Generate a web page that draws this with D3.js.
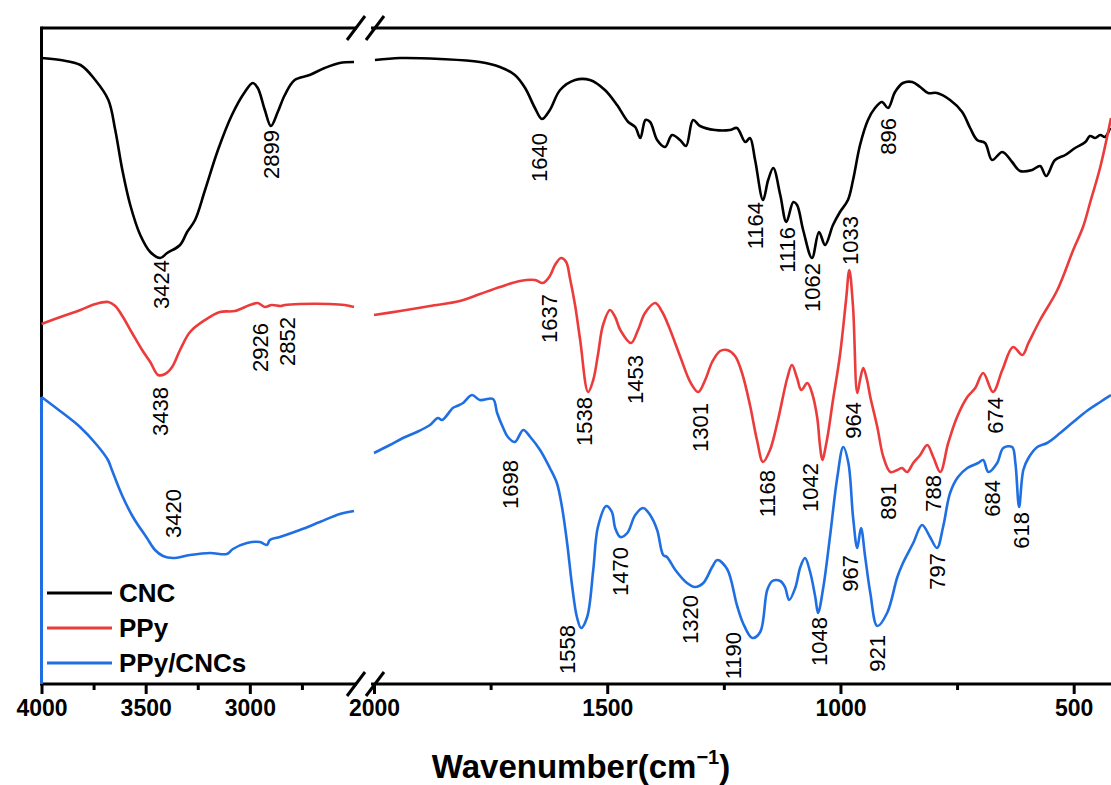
<!DOCTYPE html>
<html><head><meta charset="utf-8">
<script src="https://cdn.jsdelivr.net/npm/d3@7"></script>
<style>
html,body{margin:0;padding:0;background:#fff;}
svg{display:block;font-family:"Liberation Sans",Arial,sans-serif;}
</style></head>
<body>
<svg id="chart" width="1111" height="785"></svg>
<script>
// ---------- DATA (wavenumber cm-1, transmittance a.u.) ----------
const cncLeft = [[4000,626],[3909,624],[3813,619],[3742,604],[3679,584],[3646,554],[3612,514],[3574,479],[3526,449],[3478,432],[3430,426],[3397,431],[3335,439],[3301,452],[3263,464],[3215,494],[3153,534],[3086,569],[3024,592],[2986,601],[2962,596],[2928,574],[2899,558],[2866,572],[2832,589],[2785,604],[2713,609],[2641,616],[2569,621],[2500,622]];
const cncRight = [[1998,624],[1944,626],[1858,625],[1773,622],[1730,617],[1698,609],[1676,596],[1655,576],[1640,565],[1623,574],[1601,594],[1569,604],[1537,604],[1505,594],[1479,579],[1455,562],[1440,557],[1429,546],[1418,564],[1408,562],[1393,544],[1376,537],[1361,549],[1344,544],[1331,538],[1316,564],[1301,558],[1269,554],[1237,554],[1222,556],[1204,542],[1194,546],[1183,524],[1166,484],[1155,504],[1144,516],[1129,489],[1116,462],[1101,482],[1093,479],[1080,454],[1061,426],[1046,452],[1033,439],[1016,459],[1001,472],[984,484],[973,504],[958,539],[941,564],[926,576],[911,582],[898,576],[883,592],[866,601],[846,602],[829,597],[812,591],[793,591],[765,584],[739,572],[722,556],[707,544],[690,541],[675,524],[653,532],[632,522],[615,513],[589,514],[572,518],[559,508],[540,524],[518,529],[497,536],[475,542],[465,548],[454,546],[443,549],[433,547],[422,556]];

const ppyLeft = [[4000,360],[3909,367],[3813,374],[3742,380],[3679,382],[3646,378],[3612,368],[3565,351],[3517,334],[3478,322],[3440,309],[3407,310],[3373,317],[3335,334],[3287,352],[3215,364],[3143,372],[3072,373],[3000,379],[2962,381],[2928,377],[2895,379],[2852,378],[2832,379],[2761,380],[2617,380],[2545,379],[2500,377]];
const ppyRight = [[2000,369],[1944,373],[1880,378],[1816,383],[1773,390],[1730,397],[1687,403],[1655,404],[1638,401],[1623,408],[1612,419],[1599,426],[1588,422],[1580,406],[1569,379],[1558,344],[1541,292],[1530,304],[1520,329],[1509,359],[1494,374],[1483,367],[1472,354],[1449,341],[1434,354],[1419,371],[1397,381],[1382,372],[1365,354],[1344,328],[1322,302],[1305,292],[1290,304],[1275,322],[1258,333],[1243,334],[1226,328],[1211,311],[1194,279],[1179,244],[1166,222],[1151,234],[1134,264],[1114,306],[1104,319],[1093,306],[1084,294],[1071,301],[1061,291],[1050,267],[1044,239],[1039,224],[1029,244],[1016,284],[1001,329],[988,384],[981,414],[973,377],[964,291],[958,304],[951,316],[943,304],[936,287],[921,257],[908,227],[893,212],[878,214],[868,216],[857,212],[844,221],[829,229],[814,239],[801,227],[786,212],[769,241],[750,267],[728,287],[711,296],[694,311],[673,292],[653,314],[630,337],[610,329],[597,341],[572,364],[535,394],[501,434],[480,457],[465,481],[443,517],[420,566]];

const compEdge = [[4000,0],[4000,287]];
const compLeft = [[4000,287],[3911,273],[3815,257],[3734,239],[3681,224],[3662,214],[3614,189],[3561,167],[3494,146],[3455,134],[3417,128],[3369,126],[3287,129],[3191,131],[3110,130],[3081,135],[3014,141],[2952,142],[2918,139],[2904,144],[2856,147],[2760,154],[2664,162],[2568,170],[2500,173]];
const compRight = [[2000,231],[1966,239],[1938,246],[1908,252],[1880,259],[1863,266],[1854,264],[1831,276],[1822,278],[1809,281],[1790,289],[1773,284],[1745,285],[1736,271],[1723,256],[1713,247],[1698,242],[1680,254],[1665,247],[1644,234],[1623,216],[1608,201],[1597,177],[1586,141],[1575,97],[1565,67],[1556,56],[1543,67],[1530,114],[1520,157],[1502,178],[1490,172],[1483,156],[1472,147],[1457,151],[1440,169],[1423,176],[1408,169],[1393,154],[1380,129],[1372,127],[1354,114],[1329,101],[1312,97],[1294,101],[1275,117],[1264,124],[1243,115],[1222,79],[1209,61],[1189,46],[1172,52],[1157,94],[1146,103],[1129,103],[1119,97],[1110,84],[1097,96],[1086,117],[1076,126],[1065,112],[1054,87],[1048,71],[1037,96],[1022,149],[1007,206],[994,237],[983,221],[973,167],[964,136],[956,156],[947,127],[936,91],[921,58],[900,71],[878,107],[866,121],[844,141],[825,159],[808,147],[793,136],[780,157],[765,191],[748,207],[728,216],[705,221],[694,224],[683,212],[664,221],[651,236],[632,237],[625,221],[617,177],[608,214],[597,226],[578,237],[557,241],[529,251],[501,262],[469,274],[443,282],[420,289]];

// peak labels: [text, wavenumber position, value at label top]
const cncLabels = [["3424",3422,424],["2899",2898,554],["1640",1646,551],["1164",1183,482],["1116",1114,457],["1062",1059,421],["1033",979,468],["896",898,566]];
const ppyLabels = [["3438",3431,297],["2926",2951,361],["2852",2817,367],["1637",1623,390],["1538",1548,287],["1453",1440,329],["1301",1301,281],["1168",1157,214],["1042",1065,221],["964",973,282],["891",898,201],["788",801,209],["674",668,287]];
const compLabels = [["3420",3368,195],["1698",1708,224],["1558",1586,59],["1470",1472,137],["1320",1322,89],["1190",1230,52],["1048",1044,67],["967",979,129],["921",921,49],["797",791,131],["684",673,204],["618",611,172]];

const seriesNames = ["CNC","PPy","PPy/CNCs"];
const seriesColors = ["#000000","#ec3b3b","#1f6fe3"];

const leftMajor = [4000,3500,3000], leftMinor = [3750,3250,2750];
const rightMajor = [2000,1500,1000,500], rightMinor = [1750,1250,750];
const xTitle = "Wavenumber(cm", xTitleSup = "\u22121", xTitleEnd = ")";

// ---------- LAYOUT ----------
const svg = d3.select("#chart");
const yTop = 28, yBot = 684;
const xL = d3.scaleLinear().domain([4000,2500]).range([41.5,354]);
const xR = d3.scaleLinear().domain([2000,420]).range([374,1111]);
const y = d3.scaleLinear().domain([0,656]).range([yBot, yTop]);
const xAt = w => w >= 2250 ? xL(w) : xR(w);

const line = (sc, c) => d3.line().x(d => sc(d[0])).y(d => y(d[1])).curve(c || d3.curveCatmullRom.alpha(0.5));

const groups = [[cncLeft,cncRight],[ppyLeft,ppyRight],[compLeft,compRight]];

// axis frame
const g = svg.append("g");
const frame = g.append("g").attr("stroke","#000").attr("stroke-width",3).attr("fill","none");
frame.append("line").attr("x1",xL(4000)).attr("x2",xL(4000)).attr("y1",yTop-1.5).attr("y2",yBot+1.5);
[yTop,yBot].forEach(yy=>{
  frame.append("line").attr("x1",xL(4000)).attr("x2",357).attr("y1",yy).attr("y2",yy);
  frame.append("line").attr("x1",371).attr("x2",1111).attr("y1",yy).attr("y2",yy);
});

// ticks via d3 axes
function addAxis(scale, major, minor){
  const a = g.append("g").attr("transform",`translate(0,${yBot})`)
    .call(d3.axisBottom(scale).tickValues(major).tickSize(10).tickPadding(6).tickFormat(d3.format("d")));
  a.select(".domain").remove();
  a.selectAll(".tick line").attr("stroke","#000").attr("stroke-width",3);
  a.selectAll(".tick text").attr("fill","#000").attr("font-size",23).attr("font-weight","bold")
    .attr("font-family","'Liberation Sans',Arial,sans-serif");
  const m = g.append("g").attr("transform",`translate(0,${yBot})`)
    .call(d3.axisBottom(scale).tickValues(minor).tickSize(6).tickFormat(""));
  m.select(".domain").remove();
  m.selectAll(".tick line").attr("stroke","#000").attr("stroke-width",3);
}
addAxis(xL, leftMajor, leftMinor);
addAxis(xR, rightMajor, rightMinor);

// curves
svg.append("path").datum(compEdge).attr("d",line(xL, d3.curveLinear)).attr("fill","none")
  .attr("stroke",seriesColors[2]).attr("stroke-width",3);
groups.forEach((segs,i)=>{
  svg.append("path").datum(segs[0]).attr("d",line(xL)).attr("fill","none")
    .attr("stroke",seriesColors[i]).attr("stroke-width",2.6).attr("stroke-linejoin","round");
  svg.append("path").datum(segs[1]).attr("d",line(xR)).attr("fill","none")
    .attr("stroke",seriesColors[i]).attr("stroke-width",2.6).attr("stroke-linejoin","round");
});

// break marks
const brk = svg.append("g").attr("stroke","#000").attr("stroke-width",3);
[yTop,yBot].forEach(yy=>{
  svg.append("rect").attr("x",358).attr("y",yy-3).attr("width",12).attr("height",6).attr("fill","#fff");
  [356,375].forEach(cx=>{
    brk.append("line").attr("x1",cx-9).attr("y1",yy+12).attr("x2",cx+9).attr("y2",yy-12);
  });
});
brk.raise();

// peak labels
const labG = svg.append("g").attr("font-size",22).attr("fill","#000");
[cncLabels,ppyLabels,compLabels].forEach(arr=>{
  arr.forEach(([t,w,v])=>{
    labG.append("text").attr("transform",`translate(${xAt(w)},${y(v)}) rotate(-90)`)
      .attr("text-anchor","end").attr("dominant-baseline","central").text(t);
  });
});

// legend
const leg = svg.append("g");
seriesNames.forEach((n,i)=>{
  const yy = 593 + i*35;
  leg.append("line").attr("x1",47).attr("x2",112).attr("y1",yy).attr("y2",yy)
    .attr("stroke",seriesColors[i]).attr("stroke-width",3);
  leg.append("text").attr("x",119).attr("y",yy).attr("dominant-baseline","central")
    .attr("font-size",26).attr("font-weight","bold").text(n);
});

// x title
const tt = svg.append("text").attr("x",581).attr("y",778).attr("text-anchor","middle")
  .attr("font-size",33).attr("font-weight","bold");
tt.append("tspan").text(xTitle);
tt.append("tspan").attr("font-size",20).attr("dy",-14).text(xTitleSup);
tt.append("tspan").attr("dy",14).text(xTitleEnd);
</script>
</body></html>
